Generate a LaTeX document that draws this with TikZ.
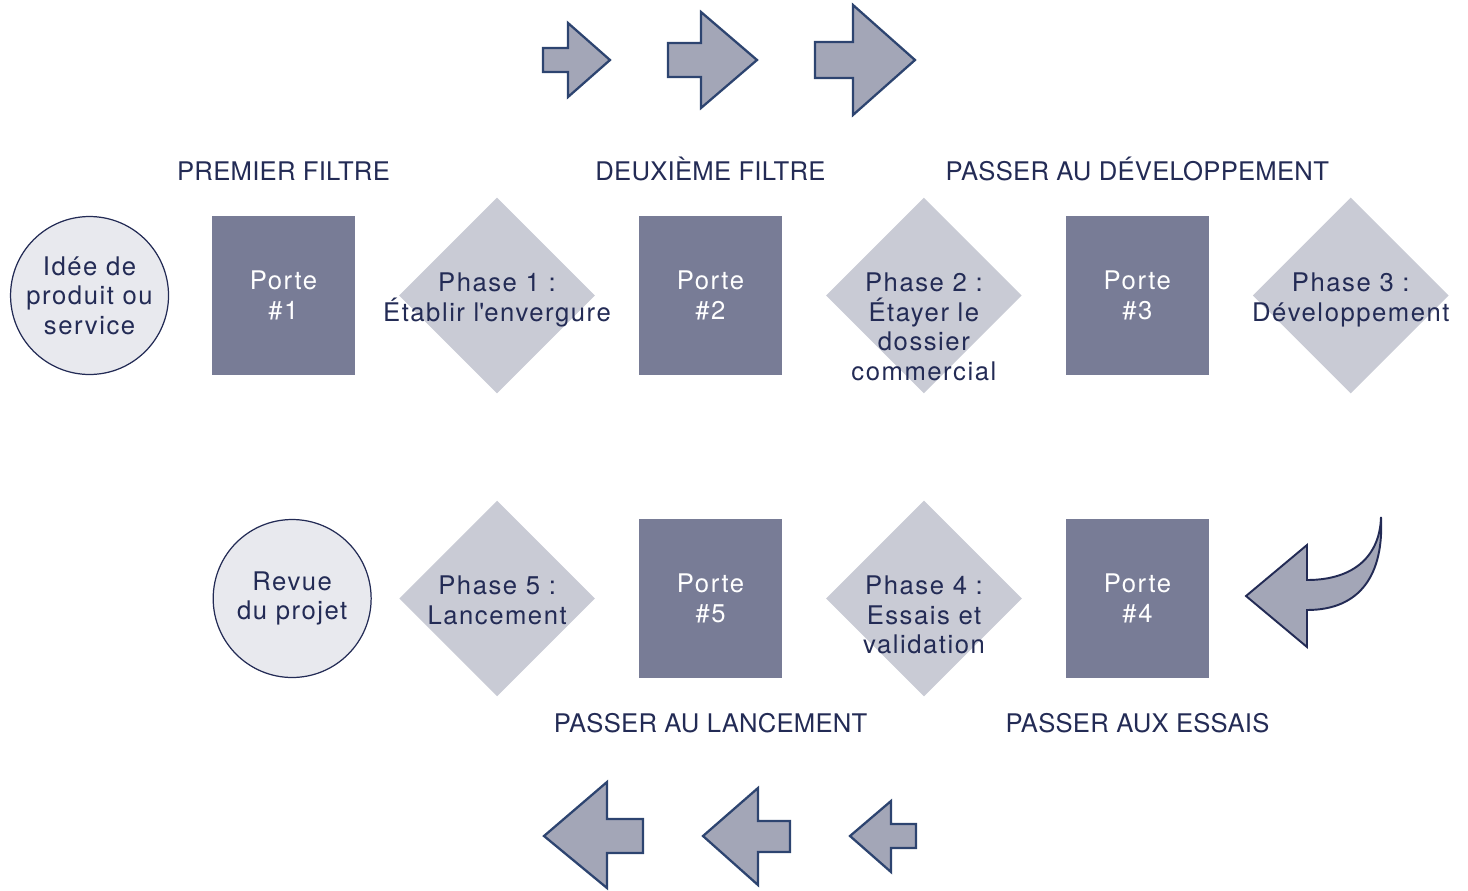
\documentclass[tikz,border=0pt]{standalone}
\usepackage{fontspec}
\setmainfont{TeX Gyre Heros}[LetterSpace=6]
\newfontfamily\titrefont{TeX Gyre Heros}[LetterSpace=1]
\usetikzlibrary{shapes.geometric,positioning}
\definecolor{navy}{HTML}{232B55}
\definecolor{portefill}{HTML}{787C96}
\definecolor{phasefill}{HTML}{C9CBD5}
\definecolor{ideefill}{HTML}{E8E9EE}
\definecolor{flechefill}{HTML}{A3A6B7}
\definecolor{flecheline}{HTML}{2D4470}

\begin{document}
\begin{tikzpicture}[x=0.02cm,y=-0.02cm,node distance=4.27cm,
    every node/.style={font=\fontsize{14.6}{16.8}\selectfont, text=navy},
    porte/.style={rectangle, fill=portefill, text=white, minimum width=2.86cm, minimum height=3.18cm, align=center},
    phase/.style={diamond, fill=phasefill, minimum width=3.92cm, minimum height=3.92cm, inner sep=0pt},
    phasetxt/.style={align=center, inner sep=0pt, anchor=north},
    idee/.style={circle, draw=navy, fill=ideefill, line width=0.7pt, minimum size=3.16cm, inner sep=0pt, align=center},
    titre/.style={inner sep=0pt, font=\titrefont\fontsize{14.6}{16.8}\selectfont},
    fleche/.style={draw=flecheline, fill=flechefill, line width=1.3pt, line join=miter}]
    \useasboundingbox (0,0) rectangle (1468,890);

    % premiere rangee
    \node[porte] (p1) at (283.5,295.5) {Porte\\\#1};
    \node[phase] (ph1) [right of=p1] {};
    \node[porte] (p2) [right of=ph1] {Porte\\\#2};
    \node[phase] (ph2) [right of=p2] {};
    \node[porte] (p3) [right of=ph2] {Porte\\\#3};
    \node[phase] (ph3) [right of=p3] {};
    \node[idee] (idee) [left of=p1, xshift=0.39cm] {Idée de\\produit ou\\service};
    \node[phasetxt] (t1) at ([yshift=0.46cm]ph1.center) {Phase 1 :\\Établir l\textquotesingle envergure};
    \node[phasetxt] (t2) at ([yshift=0.46cm]ph2.center) {Phase 2 :\\Étayer le\\dossier\\commercial};
    \node[phasetxt] (t3) at ([yshift=0.46cm]ph3.center) {Phase 3 :\\Développement};

    % deuxieme rangee
    \node[porte] (p4) at (1137.5,598.5) {Porte\\\#4};
    \node[phase] (ph4) [left of=p4] {};
    \node[porte] (p5) [left of=ph4] {Porte\\\#5};
    \node[phase] (ph5) [left of=p5] {};
    \node[idee] (revue) [left of=ph5, xshift=0.17cm] {Revue\\du projet};
    \node[phasetxt] (t4) at ([yshift=0.46cm]ph4.center) {Phase 4 :\\Essais et\\validation};
    \node[phasetxt] (t5) at ([yshift=0.46cm]ph5.center) {Phase 5 :\\Lancement};

    % titres
    \node[titre, above=0.69cm of p1] (f1) {PREMIER FILTRE};
    \node[titre, above=0.69cm of p2] (f2) {DEUXIÈME FILTRE};
    \node[titre, above=0.69cm of p3] (f3) {PASSER AU DÉVELOPPEMENT};
    \node[titre, below=0.69cm of p5] (f5) {PASSER AU LANCEMENT};
    \node[titre, below=0.69cm of p4] (f4) {PASSER AUX ESSAIS};

    % fleches du haut
    \draw[fleche] (543,48) -- (568,48) -- (568,23) -- (610,60) -- (568,97) -- (568,72) -- (543,72) -- cycle;
    \draw[fleche] (668,43) -- (701,43) -- (701,12) -- (757,60) -- (701,108) -- (701,77) -- (668,77) -- cycle;
    \draw[fleche] (815,42) -- (853,42) -- (853,5) -- (915,60) -- (853,115) -- (853,78) -- (815,78) -- cycle;

    % fleche courbe
    \draw[fleche, draw=navy, line width=1.1pt] (1246,596) -- (1307,545) -- (1307,580)
        .. controls (1355,580) and (1380,555) .. (1381,517)
        .. controls (1384,575) and (1360,610) .. (1307,610) -- (1307,647) -- cycle;

    % fleches du bas
    \draw[fleche] (643,819) -- (607,819) -- (607,782) -- (544,836) -- (607,888) -- (607,853) -- (643,853) -- cycle;
    \draw[fleche] (790,821) -- (758,821) -- (758,788) -- (703,836) -- (758,885) -- (758,852) -- (790,852) -- cycle;
    \draw[fleche] (916,824) -- (891,824) -- (891,801) -- (850,836) -- (891,872) -- (891,848) -- (916,848) -- cycle;
\end{tikzpicture}
\end{document}
